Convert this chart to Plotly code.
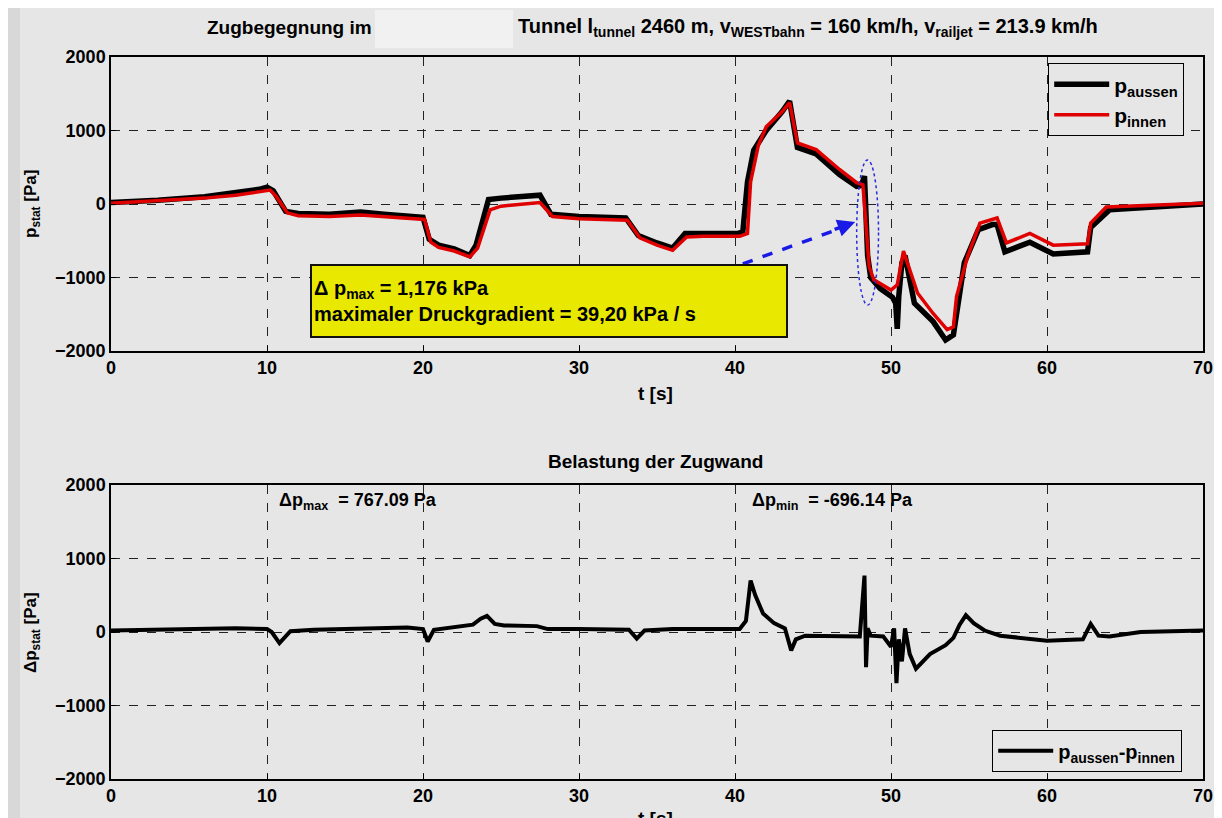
import plotly.graph_objects as go

# ---------------- data ----------------
t_innen = [0, 3, 6, 8, 9.5, 10.2, 10.6, 11.3, 12, 14, 16, 17.5, 19, 20.1, 20.5, 21, 22, 23.0,
           23.5, 24.3, 25, 26.5, 27.5, 28.3, 30, 33.1, 33.9, 35, 36.0, 36.9, 38, 40.3, 40.8,
           41.0, 41.5, 42.0, 43.0, 43.5, 44.0, 45.2, 46.7, 47.8, 48.2, 48.6, 48.9, 50.0, 50.4,
           50.8, 51.7, 52.7, 53.6, 54.0, 54.2, 54.9, 55.7, 56.8, 57.4, 58.9, 60.4, 62.6, 62.8,
           63.8, 67, 70]
p_innen = [10, 40, 80, 120, 170, 190, 100, -120, -160, -170, -150, -175, -190, -210, -520, -590,
           -640, -720, -600, -80, -30, 0, 20, -170, -200, -220, -460, -560, -630, -450, -440,
           -440, -400, 300, 800, 1050, 1250, 1380, 830, 740, 470, 290, 260, -850, -1030, -1170,
           -1100, -640, -1210, -1490, -1710, -1670, -1260, -720, -260, -190, -530, -400, -560,
           -540, -260, -40, -10, 10]

t_aussen = [0, 3, 6, 8, 9.5, 10.0, 10.4, 11.2, 12, 14, 16, 17.5, 19, 20.0, 20.4, 21, 22, 23.0,
            23.4, 24.2, 25, 26.5, 27.5, 28.2, 30, 33.0, 33.8, 35, 36.0, 36.8, 38, 40.2, 40.5,
            40.8, 41.2, 42.0, 43.0, 43.5, 44.0, 45.2, 46.7, 47.8, 48.1, 48.3, 48.5, 48.7, 49.3,
            50.1, 50.3, 50.4, 50.5, 50.7, 50.9, 51.5, 52.7, 53.5, 54.0, 54.3, 54.7, 55.6, 56.5,
            56.8, 57.3, 58.9, 60.4, 62.6, 62.8, 64.0, 67, 70]
p_aussen = [20, 50, 100, 150, 200, 230, 180, -100, -130, -140, -110, -140, -160, -180, -480,
            -560, -610, -700, -560, 60, 80, 100, 120, -140, -170, -190, -430, -530, -600, -400,
            -400, -400, -380, 300, 730, 1000, 1250, 1400, 770, 680, 400, 240, 250, 380, -700,
            -1000, -1150, -1270, -1350, -1700, -1250, -800, -700, -1350, -1600, -1850, -1780,
            -1350, -800, -350, -280, -280, -650, -520, -680, -650, -320, -80, -40, 0]

t_delta = [0, 2, 5, 8, 10.0, 10.3, 10.8, 11.5, 13, 16, 19, 20.0, 20.3, 20.7, 22, 23.2, 23.7,
           24.1, 24.6, 25.2, 27.3, 28, 30, 33.2, 33.7, 34.2, 36, 38, 40.3, 40.7, 41.0, 41.3,
           41.8, 42.5, 43.2, 43.6, 43.9, 44.5, 46, 48.0, 48.3, 48.4, 48.5, 48.7, 49.5, 50.0,
           50.2, 50.35, 50.5, 50.7, 50.9, 51.2, 51.6, 52.5, 53.5, 54.0, 54.4, 54.8, 55.3, 56,
           57, 58.5, 60, 62.3, 62.8, 63.3, 64, 66, 70]
dp = [20, 30, 40, 50, 40, 0, -150, 10, 30, 50, 60, 40, -130, 30, 60, 100, 180, 220, 110, 90,
      80, 40, 40, 30, -90, 20, 40, 40, 40, 150, 700, 500, 250, 120, 50, -250, -100, -50, -60,
      -60, 767, -480, 50, -50, -60, -200, 50, -696, -100, -400, 50, -300, -500, -300, -180,
      -80, 100, 230, 120, 20, -50, -80, -120, -100, 110, -50, -60, 0, 20]

x_ticks = [0, 10, 20, 30, 40, 50, 60, 70]
y_ticks = [-2000, -1000, 0, 1000, 2000]

# ---------------- figure ----------------
OFF = 8  # page offset of the figure in the browser
W, H = 1222 - OFF, 818 - OFF
FONT = "Liberation Sans, Arial, sans-serif"
BG = "#e6e6e6"


def px(xp):
    return (xp - OFF) / W


def py(yp):
    return (H - (yp - OFF)) / H


fig = go.Figure()
fig.add_trace(go.Scatter(x=t_aussen, y=p_aussen, mode="lines", name="p<sub>aussen</sub>",
                         line=dict(color="black", width=5.5), xaxis="x", yaxis="y",
                         legend="legend"))
fig.add_trace(go.Scatter(x=t_innen, y=p_innen, mode="lines", name="p<sub>innen</sub>",
                         line=dict(color="#e00000", width=3.5), xaxis="x", yaxis="y",
                         legend="legend"))
fig.add_trace(go.Scatter(x=t_delta, y=dp, mode="lines",
                         name="p<sub>aussen</sub>-p<sub>innen</sub>",
                         line=dict(color="black", width=4), xaxis="x2", yaxis="y2",
                         legend="legend2"))

tickfont = dict(family=FONT, size=18, color="black", weight="bold")
axis_common = dict(showline=True, mirror=True, linecolor="black", linewidth=1.5,
                   ticks="inside", ticklen=5, tickcolor="black", tickfont=tickfont,
                   showgrid=True, gridcolor="#222222", gridwidth=1.3, griddash="dash",
                   zeroline=False, automargin=False)

xdom = [px(111), px(1203)]
fig.update_layout(
    width=W, height=H,
    margin=dict(l=0, r=0, t=0, b=0),
    paper_bgcolor=BG, plot_bgcolor=BG,
    xaxis=dict(axis_common, domain=xdom, range=[0, 70], tickvals=x_ticks, anchor="y"),
    yaxis=dict(axis_common, domain=[py(351), py(57)], range=[-2000, 2000], tickvals=y_ticks,
               anchor="x"),
    xaxis2=dict(axis_common, domain=xdom, range=[0, 70], tickvals=x_ticks, anchor="y2"),
    yaxis2=dict(axis_common, domain=[py(779), py(485)], range=[-2000, 2000], tickvals=y_ticks,
                anchor="x2"),
    legend=dict(x=px(1048), y=py(63), xanchor="left", yanchor="top", bgcolor=BG,
                bordercolor="black", borderwidth=1.2, itemwidth=55,
                font=dict(family=FONT, size=21, color="black", weight="bold"),
                tracegroupgap=2),
    legend2=dict(x=px(992), y=py(730), xanchor="left", yanchor="top", bgcolor=BG,
                 bordercolor="black", borderwidth=1.2, itemwidth=55,
                 font=dict(family=FONT, size=20, color="black", weight="bold")),
    showlegend=True,
)


def bold(s):
    return dict(family=FONT, size=s, color="black", weight="bold")


shapes = [
    # darker left strip
    dict(type="rect", xref="paper", yref="paper", x0=0, x1=px(20), y0=0, y1=1,
         fillcolor="#d8d8d8", line_width=0, layer="below"),
    # redaction box in title
    dict(type="rect", xref="paper", yref="paper", x0=px(375), x1=px(513), y0=py(48), y1=py(10),
         fillcolor="#f1f1f1", line_width=0),
    # dotted ellipse around the pressure step
    dict(type="circle", xref="x", yref="y", x0=47.8, x1=49.2, y0=-1375, y1=600,
         line=dict(color="#2a2ae0", width=1.5, dash="dot")),
    # dashed arrow shaft
    dict(type="line", xref="x", yref="y", x0=40.5, y0=-815, x1=47.3, y1=-290,
         line=dict(color="#1a1ae6", width=3.5, dash="dash")),
]
fig.update_layout(shapes=shapes)

annotations = [
    dict(text="Zugbegegnung im", xref="paper", yref="paper", x=px(374), y=py(27),
         xanchor="right", yanchor="middle", showarrow=False, font=bold(19)),
    dict(text="Tunnel l<sub>tunnel</sub> 2460 m, v<sub>WESTbahn</sub> = 160 km/h, "
              "v<sub>railjet</sub> = 213.9 km/h",
         xref="paper", yref="paper", x=px(516), y=py(27), xanchor="left", yanchor="middle",
         showarrow=False, font=bold(20)),
    dict(text="t [s]", xref="paper", yref="paper", x=px(655), y=py(393), showarrow=False,
         xanchor="center", yanchor="middle", font=bold(19)),
    dict(text="t [s]", xref="paper", yref="paper", x=px(655), y=py(818), showarrow=False,
         xanchor="center", yanchor="middle", font=bold(19)),
    dict(text="p<sub>stat</sub> [Pa]", xref="paper", yref="paper", x=px(32), y=py(204),
         textangle=-90, showarrow=False, xanchor="center", yanchor="middle", font=bold(17)),
    dict(text="Δp<sub>stat</sub> [Pa]", xref="paper", yref="paper", x=px(32), y=py(632),
         textangle=-90, showarrow=False, xanchor="center", yanchor="middle", font=bold(17)),
    dict(text="Belastung der Zugwand", xref="paper", yref="paper", x=px(655), y=py(461),
         showarrow=False, xanchor="center", yanchor="middle", font=bold(19)),
    dict(text="Δp<sub>max</sub>  = 767.09 Pa", xref="paper", yref="paper", x=px(277),
         y=py(502), showarrow=False, xanchor="left", yanchor="middle", font=bold(18)),
    dict(text="Δp<sub>min</sub>  = -696.14 Pa", xref="paper", yref="paper", x=px(750),
         y=py(502), showarrow=False, xanchor="left", yanchor="middle", font=bold(18)),
    dict(text="Δ p<sub>max</sub> = 1,176 kPa<br>maximaler Druckgradient = 39,20 kPa / s",
         xref="paper", yref="paper", x=px(310), y=py(264), xanchor="left", yanchor="top",
         showarrow=False, align="left", valign="middle", width=470, height=66,
         bgcolor="#e8e800", bordercolor="#111111", borderwidth=2, borderpad=2,
         font=bold(20)),
    # arrow head
    dict(text="", xref="x", yref="y", x=47.7, y=-245, ax=-22, ay=8, showarrow=True,
         arrowhead=2, arrowsize=1, arrowwidth=3.5, arrowcolor="#1a1ae6"),
]
fig.update_layout(annotations=annotations)

fig.write_html("out.html")
